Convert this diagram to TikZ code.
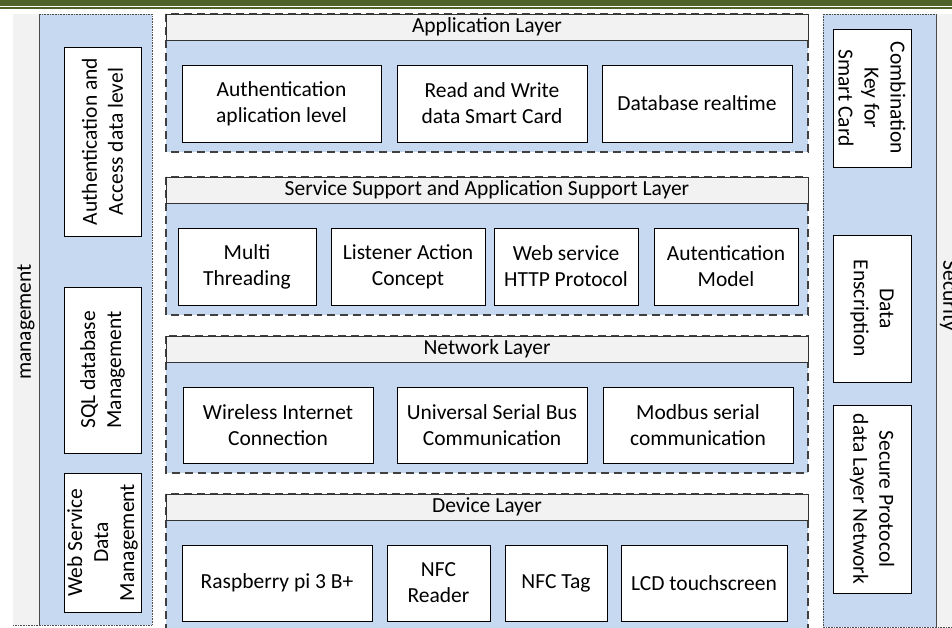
\documentclass[tikz,border=0pt]{standalone}
\usepackage{fontspec}
\setmainfont{Carlito}
\usepackage{xcolor}
\usetikzlibrary{positioning}

\definecolor{bandgreen}{HTML}{4F6228}
\definecolor{layerblue}{HTML}{C6D9F1}
\definecolor{headgray}{HTML}{F2F2F2}

\begin{document}
\begin{tikzpicture}[x=1pt,y=-1pt,
    box/.style={shape=rectangle, draw=black, fill=white, line width=0.9pt,
      align=center, inner sep=0pt, font=\fontsize{21.5}{26}\selectfont},
    head/.style={shape=rectangle, draw=black!80, fill=headgray, line width=0.9pt,
      inner sep=0pt, minimum width=642pt, minimum height=26pt,
      font=\fontsize{21.5}{26}\selectfont},
    region/.style={fill=layerblue, draw=black!75, line width=1.2pt,
      dash pattern=on 8pt off 5pt},
    panel/.style={fill=layerblue, draw=black!70, line width=0.6pt, densely dotted},
    side/.style={inner sep=0pt, font=\fontsize{21.5}{26}\selectfont}]
    \path[use as bounding box, clip] (0,0) rectangle (952,628);

    % top band
    \fill[bandgreen] (0,0) rectangle (952,6);
    \fill[bandgreen] (0,7.3) rectangle (952,8.7);

    % management panel
    \draw[panel] (13,14) rectangle (152,625);
    \fill[headgray] (13.3,14.3) rectangle (39,624.7);
    \draw[black!70, line width=0.6pt] (39,14) -- (39,625);
    \node[side, rotate=90] (mgmt) at (26,322) {management};
    \node[box, rotate=90, minimum width=189pt, minimum height=77pt] (accdata) at (102.5,141.5)
      {Authentication and\\Access data level};
    \node[box, rotate=90, minimum width=166pt, minimum height=77pt] (sqldb) at (102.5,370)
      {SQL database\\Management};
    \node[box, rotate=90, minimum width=139pt, minimum height=77pt] (wsdata) at (102.5,542.5)
      {Web Service\\Data\\Management};

    % security panel
    \draw[panel] (823,14) rectangle (962,627);
    \fill[headgray] (936,14.3) rectangle (962,626.7);
    \draw[black!70, line width=0.6pt] (936,14) -- (936,627);
    \node[side, rotate=-90] (secu) at (949,296) {Security};
    \node[box, rotate=-90, minimum width=138pt, minimum height=78pt] (combkey) at (872,98)
      {Combination\\Key for\\Smart Card};
    \node[box, rotate=-90, minimum width=147pt, minimum height=78pt] (dataenc) at (872,308.5)
      {Data\\Enscription};
    \node[box, rotate=-90, minimum width=188pt, minimum height=78pt] (secproto) at (872,499)
      {Secure Protocol\\data Layer Network};

    % application layer
    \draw[region] (166,14) rectangle (808,152);
    \node[head] (apphead) at (487,27) {Application Layer};
    \node[box, minimum width=199pt, minimum height=77pt] (authapp) at (281.5,103.5)
      {Authentication\\aplication level};
    \node[box, minimum width=190pt, minimum height=77pt] (rwcard) at (492,103.5)
      {Read and Write\\data Smart Card};
    \node[box, minimum width=190pt, minimum height=77pt] (dbreal) at (697,103.5)
      {Database realtime};

    % service support layer
    \draw[region] (166,177) rectangle (808,315);
    \node[head] (svchead) at (487,190) {Service Support and Application Support Layer};
    \node[box, minimum width=138pt, minimum height=77pt] (multi) at (247,266.5)
      {Multi\\Threading};
    \node[box, minimum width=154pt, minimum height=77pt] (listen) at (408,266.5)
      {Listener Action\\Concept};
    \node[box, minimum width=144pt, minimum height=77pt] (websvc) at (566,266.5)
      {Web service\\HTTP Protocol};
    \node[box, minimum width=144pt, minimum height=77pt] (autmodel) at (726,266.5)
      {Autentication\\Model};

    % network layer
    \draw[region] (166,336) rectangle (808,473);
    \node[head] (nethead) at (487,349) {Network Layer};
    \node[box, minimum width=190pt, minimum height=76pt] (wifi) at (278,425)
      {Wireless Internet\\Connection};
    \node[box, minimum width=190pt, minimum height=76pt] (usb) at (492,425)
      {Universal Serial Bus\\Communication};
    \node[box, minimum width=190pt, minimum height=76pt] (modbus) at (698,425)
      {Modbus serial\\communication};

    % device layer
    \draw[region] (166,494) rectangle (808,645);
    \node[head] (devhead) at (487,507) {Device Layer};
    \node[box, minimum width=190pt, minimum height=76pt] (rpi) at (277,583)
      {Raspberry pi 3 B+};
    \node[box, minimum width=103pt, minimum height=76pt] (nfcread) at (438.5,583)
      {NFC\\Reader};
    \node[box, minimum width=102pt, minimum height=76pt] (nfctag) at (556,583)
      {NFC Tag};
    \node[box, minimum width=166pt, minimum height=76pt] (lcd) at (704,583)
      {LCD touchscreen};
\end{tikzpicture}
\end{document}
